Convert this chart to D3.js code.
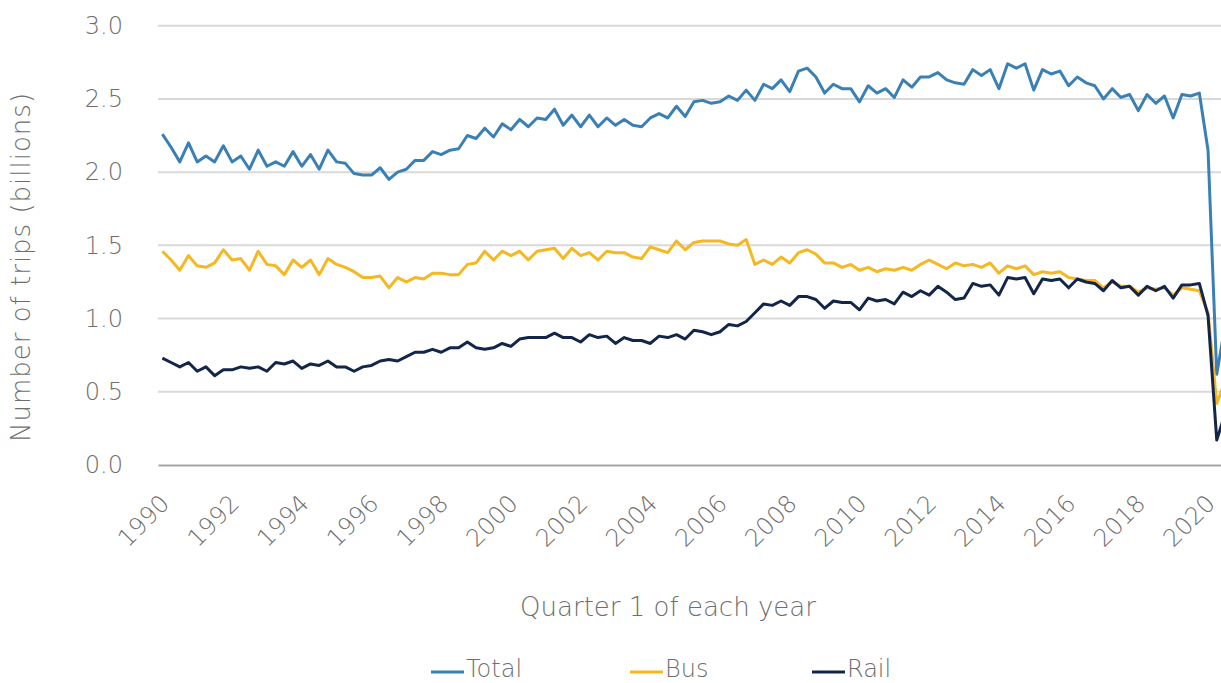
<!DOCTYPE html>
<html>
<head>
<meta charset="utf-8">
<title>Trips by mode</title>
<style>
  body { margin: 0; background: #fff; }
  text { font-family: "DejaVu Sans", "Open Sans", sans-serif; font-weight: 200; fill: #6e6e6e; }
</style>
</head>
<body>
<script src="https://d3js.org/d3.v7.min.js"></script>
<script>

// quarterly series, Q1 1990 .. Q3 2020 (billions of trips)
var startYear = 1990;

var total = [
  2.26, 2.17, 2.07, 2.20, 2.07, 2.11, 2.07, 2.18, 2.07, 2.11, 2.02, 2.15, 2.04, 2.07, 2.04, 2.14, 2.04, 2.12, 2.02, 2.15,
  2.07, 2.06, 1.99, 1.98, 1.98, 2.03, 1.95, 2.00, 2.02, 2.08, 2.08, 2.14, 2.12, 2.15, 2.16, 2.25, 2.23, 2.30, 2.24, 2.33,
  2.29, 2.36, 2.31, 2.37, 2.36, 2.43, 2.32, 2.39, 2.31, 2.39, 2.31, 2.37, 2.32, 2.36, 2.32, 2.31, 2.37, 2.40, 2.37, 2.45, 2.38,
  2.48, 2.49, 2.47, 2.48, 2.52, 2.49, 2.56, 2.49, 2.60, 2.57, 2.63, 2.55, 2.69, 2.71, 2.65, 2.54, 2.60, 2.57, 2.57, 2.48, 2.59,
  2.54, 2.57, 2.51, 2.63, 2.58, 2.65, 2.65, 2.68, 2.63, 2.61, 2.60, 2.70, 2.66, 2.70, 2.57, 2.74, 2.71, 2.74, 2.56,
  2.70, 2.67, 2.69, 2.59, 2.65, 2.61, 2.59, 2.50, 2.57, 2.51, 2.53, 2.42, 2.53, 2.47, 2.52, 2.37, 2.53, 2.52, 2.54, 2.15, 0.62, 0.97
];

var bus = [
  1.46, 1.40, 1.33, 1.43, 1.36, 1.35, 1.38, 1.47, 1.40, 1.41, 1.33, 1.46, 1.37, 1.36, 1.30, 1.40, 1.35, 1.40, 1.30, 1.41,
  1.37, 1.35, 1.32, 1.28, 1.28, 1.29, 1.21, 1.28, 1.25, 1.28, 1.27, 1.31, 1.31, 1.30, 1.30, 1.37, 1.38, 1.46, 1.40, 1.46,
  1.43, 1.46, 1.40, 1.46, 1.47, 1.48, 1.41, 1.48, 1.43, 1.45, 1.40, 1.46, 1.45, 1.45, 1.42, 1.41, 1.49, 1.47, 1.45, 1.53, 1.47,
  1.52, 1.53, 1.53, 1.53, 1.51, 1.50, 1.54, 1.37, 1.40, 1.37, 1.42, 1.38, 1.45, 1.47, 1.44, 1.38, 1.38, 1.35, 1.37, 1.33, 1.35,
  1.32, 1.34, 1.33, 1.35, 1.33, 1.37, 1.40, 1.37, 1.34, 1.38, 1.36, 1.37, 1.35, 1.38, 1.31, 1.36, 1.34, 1.36, 1.30,
  1.32, 1.31, 1.32, 1.28, 1.27, 1.26, 1.26, 1.21, 1.25, 1.22, 1.22, 1.18, 1.21, 1.20, 1.21, 1.16, 1.21, 1.20, 1.19, 1.04, 0.42, 0.58
];

var rail = [
  0.73, 0.70, 0.67, 0.70, 0.64, 0.67, 0.61, 0.65, 0.65, 0.67, 0.66, 0.67, 0.64, 0.70, 0.69, 0.71, 0.66, 0.69, 0.68, 0.71,
  0.67, 0.67, 0.64, 0.67, 0.68, 0.71, 0.72, 0.71, 0.74, 0.77, 0.77, 0.79, 0.77, 0.80, 0.80, 0.84, 0.80, 0.79, 0.80, 0.83,
  0.81, 0.86, 0.87, 0.87, 0.87, 0.90, 0.87, 0.87, 0.84, 0.89, 0.87, 0.88, 0.83, 0.87, 0.85, 0.85, 0.83, 0.88, 0.87, 0.89, 0.86,
  0.92, 0.91, 0.89, 0.91, 0.96, 0.95, 0.98, 1.04, 1.10, 1.09, 1.12, 1.09, 1.15, 1.15, 1.13, 1.07, 1.12, 1.11, 1.11, 1.06, 1.14,
  1.12, 1.13, 1.10, 1.18, 1.15, 1.19, 1.16, 1.22, 1.18, 1.13, 1.14, 1.24, 1.22, 1.23, 1.16, 1.28, 1.27, 1.28, 1.17,
  1.27, 1.26, 1.27, 1.21, 1.27, 1.25, 1.24, 1.19, 1.26, 1.21, 1.22, 1.16, 1.22, 1.19, 1.22, 1.14, 1.23, 1.23, 1.24, 1.02, 0.17, 0.36
];

var yTicks = [0, 0.5, 1.0, 1.5, 2.0, 2.5, 3.0];
var seriesNames = ["Total", "Bus", "Rail"];
var seriesColors = ["#3b80b5", "#f6b822", "#13264a"];

// quarter labels, one per value
var quarters = total.map(function (d, i) {
  return (startYear + Math.floor(i / 4)) + " Q" + (i % 4 + 1);
});
// year label every 2 years at Q1
var labelQuarters = quarters.filter(function (q, i) { return i % 8 === 0; });

var width = 1221,
    height = 683,
    plotLeft = 158,
    plotTop = 25.7,
    plotBottom = 465,
    step = 8.714,
    plotRight = plotLeft + quarters.length * step;

var svg = d3.select("body").append("svg")
    .attr("width", width)
    .attr("height", height);

var x = d3.scalePoint()
    .domain(quarters)
    .range([plotLeft, plotRight])
    .padding(0.5);

var y = d3.scaleLinear()
    .domain([0, 3])
    .range([plotBottom, plotTop]);

// gridlines
svg.append("g")
  .selectAll("line")
  .data(yTicks.filter(function (d) { return d > 0; }))
  .join("line")
    .attr("x1", plotLeft)
    .attr("x2", plotRight)
    .attr("y1", function (d) { return y(d); })
    .attr("y2", function (d) { return y(d); })
    .attr("stroke", "#d9d9d9")
    .attr("stroke-width", 2);

// y axis labels
var yAxis = svg.append("g")
    .attr("transform", "translate(" + plotLeft + ",0)")
    .call(d3.axisLeft(y).tickValues(yTicks).tickFormat(d3.format(".1f")).tickSize(0).tickPadding(35));
yAxis.select(".domain").remove();
yAxis.selectAll("text")
    .attr("font-size", 24)
    .attr("font-family", null)
    .attr("fill", null);

// x axis
var xAxis = svg.append("g")
    .attr("transform", "translate(0," + plotBottom + ")")
    .call(d3.axisBottom(x).tickValues(labelQuarters).tickSize(0)
      .tickFormat(function (q) { return q.slice(0, 4); }));
xAxis.select(".domain")
    .attr("stroke", "#a6a6a6")
    .attr("stroke-width", 2);
xAxis.selectAll("text")
    .attr("font-size", 24)
    .attr("font-family", null)
    .attr("fill", null)
    .attr("x", 0)
    .attr("y", 0)
    .attr("dy", 0)
    .attr("text-anchor", "end")
    .attr("transform", "translate(8,40) rotate(-45)");

// series lines
var line = d3.line()
    .x(function (d, i) { return x(quarters[i]); })
    .y(function (d) { return y(d); });

[total, bus, rail].forEach(function (values, k) {
  svg.append("path")
      .datum(values)
      .attr("fill", "none")
      .attr("stroke", seriesColors[k])
      .attr("stroke-width", 3)
      .attr("stroke-linejoin", "round")
      .attr("d", line);
});

// axis titles
svg.append("text")
    .attr("x", 668)
    .attr("y", 608)
    .attr("text-anchor", "middle")
    .attr("dominant-baseline", "middle")
    .attr("font-size", 26)
    .text("Quarter 1 of each year");

svg.append("text")
    .attr("transform", "translate(22,267) rotate(-90)")
    .attr("text-anchor", "middle")
    .attr("dominant-baseline", "middle")
    .attr("font-size", 26)
    .attr("letter-spacing", 1)
    .text("Number of trips (billions)");

// legend
var legendX = [431, 630, 812];
var legend = svg.append("g")
  .selectAll("g")
  .data(seriesNames)
  .join("g")
    .attr("transform", function (d, i) { return "translate(" + legendX[i] + ",672)"; });

legend.append("line")
    .attr("x1", 0)
    .attr("x2", 33)
    .attr("stroke", function (d, i) { return seriesColors[i]; })
    .attr("stroke-width", 3);

legend.append("text")
    .attr("x", 35)
    .attr("y", 5)
    .attr("font-size", 24)
    .text(function (d) { return d; });

</script>
</body>
</html>
